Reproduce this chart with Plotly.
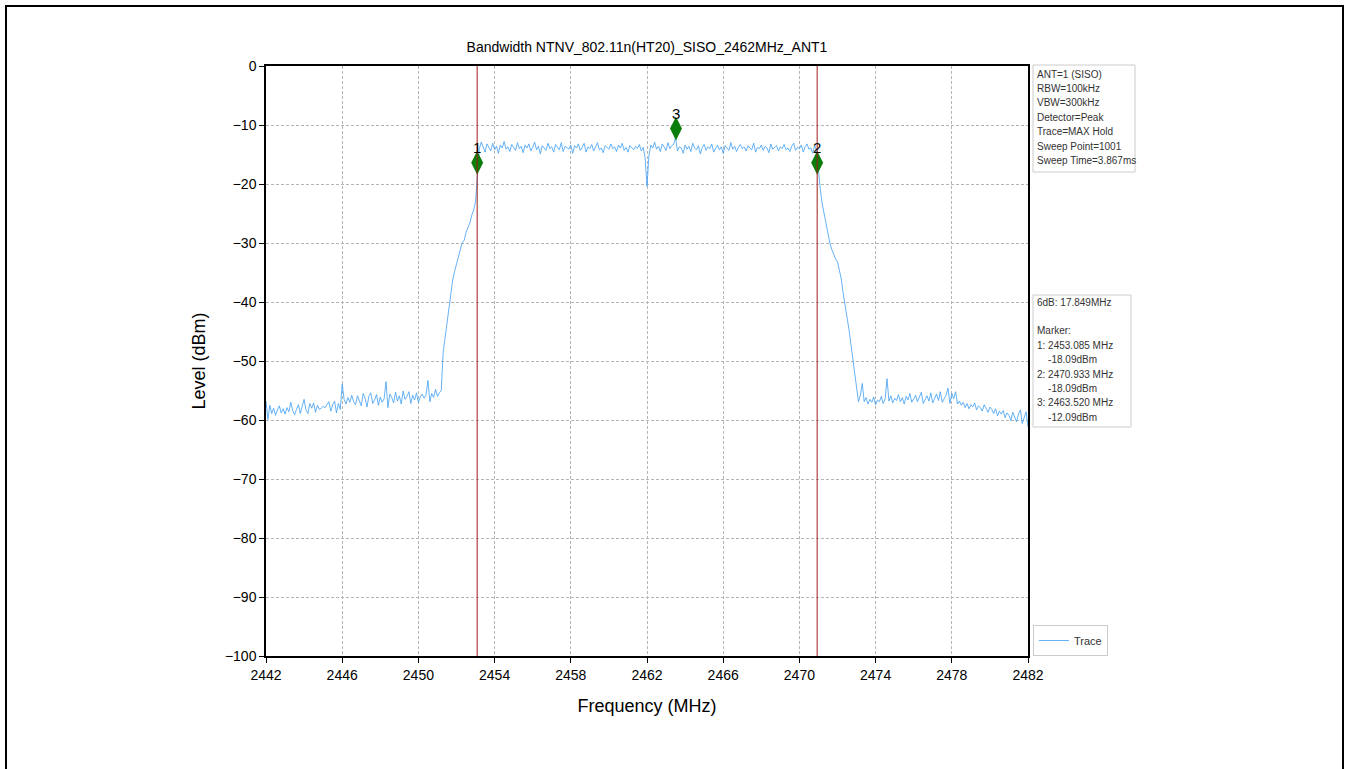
import numpy as np
import plotly.graph_objects as go

# ---------------- data ----------------
freq_start = 2442.0
freq_stop = 2482.0
n_points = 401
freqs = np.linspace(freq_start, freq_stop, n_points)

level_dbm = [
    # 2442.0 - 2445.9
    -56.8, -59.9, -57.5, -58.9, -58.0, -59.2, -58.3, -57.6, -58.8, -58.1,
    -59.0, -57.9, -58.6, -57.0, -58.4, -59.1, -58.2, -57.4, -58.9, -57.8,
    -56.5, -58.3, -58.9, -57.2, -58.0, -57.1, -58.7, -57.5, -58.2, -58.0,
    -57.7, -57.9, -57.3, -56.9, -58.5, -57.4, -56.8, -58.8, -57.2, -58.2,
    # 2446.0 - 2448.2
    -53.9, -56.5, -57.3, -56.2, -57.0, -55.8, -56.9, -57.4, -55.9, -56.7,
    -57.6, -55.5, -56.3, -57.8, -56.0, -55.4, -57.2, -56.6, -55.7, -57.5,
    -56.1, -57.0, -56.4,
    # 2448.3 - 2451.1
    -53.5, -57.9, -55.6, -56.2, -57.1, -55.3, -56.8, -55.9, -57.3, -55.1,
    -56.5, -56.0, -55.2, -57.2, -55.8, -56.6, -55.4, -57.0, -56.1, -55.6,
    -56.3, -55.8, -53.3, -56.9, -55.5, -56.2, -54.8, -56.0, -55.4,
    # 2451.2 - 2453.1 (rising edge)
    -55.0, -48.5, -46.0, -43.2, -40.6, -38.2, -36.3, -34.8, -33.6, -32.1,
    -31.2, -29.9, -29.6, -28.2, -27.4, -26.6, -25.3, -24.4, -23.0, -18.1,
    # 2453.2 - 2470.8 (in-band)
    -14.0, -12.9, -13.8, -14.6, -13.2, -13.9, -14.4, -13.1, -14.2, -13.6,
    -14.8, -13.4, -13.9, -12.8, -14.1, -13.7, -14.5, -13.3, -13.9, -14.3,
    -13.0, -14.0, -13.6, -14.7, -13.4, -13.9, -13.2, -14.4, -13.8, -12.9,
    -14.2, -13.6, -14.9, -13.5, -13.9, -14.3, -13.1, -14.0, -13.7, -14.6,
    -13.3, -13.8, -14.2, -13.0, -14.5, -13.6, -13.9, -14.1, -13.4, -14.8,
    -13.5, -13.9, -13.2, -14.3, -13.8, -13.1, -14.6, -13.7, -14.0, -13.3,
    -14.4, -13.6, -13.0, -14.2, -13.9, -14.7, -13.5, -13.8, -14.1, -13.2,
    -14.0, -13.7, -14.5, -13.4, -13.9, -13.1, -14.3, -13.8, -14.6, -13.5,
    -13.9, -14.2, -13.6, -14.0, -13.3, -14.4, -13.8, -15.5, -20.4, -15.2,
    -13.4, -13.9, -12.9, -14.1, -13.6, -14.5, -13.2, -13.8, -14.3, -13.0,
    -14.0, -13.5, -13.3, -12.1, -14.4, -13.7, -13.9, -14.8, -13.4, -14.1,
    -13.6, -14.5, -13.1, -13.9, -14.2, -13.5, -14.9, -13.8, -13.3, -14.3,
    -13.7, -14.0, -13.2, -14.6, -13.9, -13.4, -14.2, -13.7, -14.8, -13.5,
    -13.9, -14.3, -13.0, -14.1, -13.6, -14.5, -13.8, -13.3, -14.0, -13.7,
    -14.4, -13.5, -13.9, -14.2, -13.1, -14.6, -13.8, -14.0, -13.4, -14.3,
    -13.6, -13.9, -14.7, -13.2, -14.1, -13.8, -13.5, -14.4, -13.7, -14.0,
    -13.3, -14.2, -13.9, -14.5, -13.6, -13.1, -14.3, -13.8, -14.0, -13.4,
    -14.6, -13.7, -13.2, -14.1, -13.9, -14.8, -13.5, -14.3,
    # 2470.9 - 2473.1 (falling edge)
    -18.1, -21.0, -23.4, -25.1, -27.0, -28.6, -30.0, -31.1, -32.0, -32.7,
    -33.2, -34.6, -36.1, -38.6, -41.0, -42.6, -44.6, -47.1, -49.6, -52.1,
    -54.2, -56.9,
    # 2473.2 - 2482.0
    -55.8, -53.8, -56.9, -56.2, -57.3, -56.5, -57.0, -56.1, -57.4, -56.6,
    -56.9, -56.0, -57.2, -56.4, -53.0, -56.8, -55.9, -57.1, -56.3, -56.7,
    -55.7, -56.9, -56.2, -57.3, -56.0, -56.6, -55.5, -57.0, -56.4, -55.8,
    -56.9, -56.1, -55.3, -57.2, -56.5, -55.9, -56.8, -55.4, -57.1, -56.2,
    -55.6, -56.7, -55.2, -57.0, -56.3, -55.8, -54.6, -57.2, -55.5, -56.4,
    -55.2, -57.3, -56.8, -57.5, -57.0, -57.9, -57.2, -58.1, -57.4, -57.8,
    -57.1, -58.3, -57.6, -57.9, -58.5, -57.4, -58.0, -58.7, -57.8, -58.2,
    -58.9, -58.1, -59.3, -58.5, -59.0, -58.4, -59.6, -58.8, -59.2, -60.1,
    -58.7, -59.5, -60.3, -59.0, -58.3, -60.6, -59.4, -58.6, -61.2,
]

marker_labels = ["1", "2", "3"]
marker_freqs = [2453.085, 2470.933, 2463.520]
marker_plot_levels = [-16.4, -16.4, -10.6]   # as drawn in the picture
marker_text_levels = ["-18.09dBm", "-18.09dBm", "-12.09dBm"]
edge_freqs = [2453.085, 2470.933]

x_ticks = list(range(2442, 2483, 4))
y_ticks = list(range(-100, 1, 10))

title_text = "Bandwidth NTNV_802.11n(HT20)_SISO_2462MHz_ANT1"
info_lines = ["ANT=1 (SISO)", "RBW=100kHz", "VBW=300kHz", "Detector=Peak",
              "Trace=MAX Hold", "Sweep Point=1001", "Sweep Time=3.867ms"]
bw_text = "6dB: 17.849MHz"

# ---------------- figure ----------------
FONT = "Liberation Sans, Arial, sans-serif"
W, H = 1349, 769
L_PX, R_PX, T_PX, B_PX = 266, 1028, 66, 656


def px_to_paper_x(px):
    return (px - L_PX) / (R_PX - L_PX)


def px_to_paper_y(py):
    return (B_PX - py) / (B_PX - T_PX)


fig = go.Figure()

fig.add_trace(go.Scatter(
    x=freqs, y=level_dbm, mode="lines", name="Trace",
    line=dict(color="#3f9ef2", width=0.8),
))

fig.add_trace(go.Scatter(
    x=marker_freqs, y=marker_plot_levels, mode="markers",
    marker=dict(symbol="diamond-tall", size=17, color="#0a7d0a"),
    showlegend=False, cliponaxis=False,
))

for lab, f, lv in zip(marker_labels, marker_freqs, marker_plot_levels):
    fig.add_annotation(x=f, y=lv, text=lab, showarrow=False, yshift=15,
                       font=dict(family=FONT, size=15, color="black"))

for f in edge_freqs:
    fig.add_shape(type="line", xref="x", yref="paper", x0=f, x1=f, y0=0, y1=1,
                  line=dict(color="#a01c1c", width=1), layer="above")

# outer figure border (bottom edge falls outside the page, as in the reference)
fig.add_shape(type="rect", xref="paper", yref="paper",
              x0=px_to_paper_x(6), x1=px_to_paper_x(1343),
              y0=px_to_paper_y(780), y1=px_to_paper_y(6),
              line=dict(color="black", width=2))

marker_lines = ["Marker:"]
for lab, f, t in zip(marker_labels, marker_freqs, marker_text_levels):
    marker_lines.append(f"{lab}: {f:.3f} MHz")
    marker_lines.append("\u00a0\u00a0\u00a0\u00a0" + t)

LINE_H = 14.4
BOX_FONT = dict(family=FONT, size=10, color="#333333")


def text_box(lines, x0, x1, y_top, y_bottom, first_center):
    fig.add_shape(type="rect", xref="paper", yref="paper",
                  x0=px_to_paper_x(x0), x1=px_to_paper_x(x1),
                  y0=px_to_paper_y(y_bottom), y1=px_to_paper_y(y_top),
                  line=dict(color="#cccccc", width=1), fillcolor="white",
                  layer="above")
    for k, line in enumerate(lines):
        if not line:
            continue
        fig.add_annotation(xref="paper", yref="paper",
                           x=px_to_paper_x(x0 + 1.5),
                           y=px_to_paper_y(first_center + k * LINE_H),
                           xanchor="left", yanchor="middle", showarrow=False,
                           text=line, font=BOX_FONT)


text_box(info_lines, 1033, 1135, 65, 172, 74)
text_box([bw_text, ""] + marker_lines, 1033, 1131, 295, 427, 302)

fig.update_layout(
    width=W, height=H,
    margin=dict(l=L_PX, r=W - R_PX, t=T_PX, b=H - B_PX, autoexpand=False),
    paper_bgcolor="white", plot_bgcolor="white",
    font=dict(family=FONT, size=14, color="black"),
    title=dict(text=title_text, x=(L_PX + R_PX) / 2 / W, xanchor="center",
               y=1 - 47 / H, yanchor="middle",
               font=dict(family=FONT, size=14, color="black")),
    showlegend=True,
    legend=dict(x=px_to_paper_x(1033), y=0.0, xanchor="left", yanchor="bottom",
                bordercolor="#cccccc", borderwidth=1, bgcolor="white",
                tracegroupgap=0, itemwidth=30,
                font=dict(family=FONT, size=11, color="#333333")),
    xaxis=dict(range=[freq_start, freq_stop], tickvals=x_ticks,
               ticks="outside", ticklen=5, tickcolor="black",
               showline=True, linecolor="black", linewidth=1.5, mirror=True,
               showgrid=True, gridcolor="#b5b5b5", griddash="3px,2px", gridwidth=1,
               zeroline=False, tickfont=dict(size=14),
               title=dict(text="Frequency (MHz)", font=dict(size=18), standoff=18)),
    yaxis=dict(range=[-100, 0], tickvals=y_ticks,
               ticks="outside", ticklen=5, tickcolor="black",
               showline=True, linecolor="black", linewidth=1.5, mirror=True,
               showgrid=True, gridcolor="#b5b5b5", griddash="3px,2px", gridwidth=1,
               zeroline=False, tickfont=dict(size=14),
               title=dict(text="Level (dBm)", font=dict(size=18), standoff=15)),
)

fig.write_html("out.html", config={"displayModeBar": False},
               post_script="document.body.style.margin='0';document.body.style.overflow='hidden';")
